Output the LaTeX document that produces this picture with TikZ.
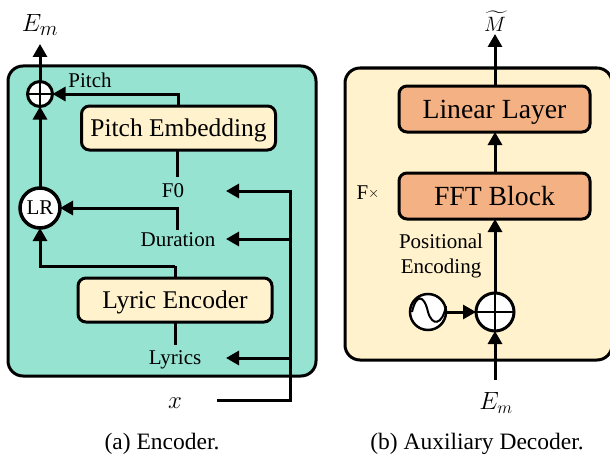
\documentclass[tikz,border=0pt]{standalone}
\usepackage{fontspec}
\usepackage{amsmath}
\setmainfont{Liberation Serif}
\usetikzlibrary{arrows.meta, positioning}

\definecolor{tealpanel}{HTML}{96E3D2}
\definecolor{creampanel}{HTML}{FFF2CC}
\definecolor{orangebox}{HTML}{F4B183}

\newcommand{\sz}[1]{\fontsize{#1}{#1}\selectfont}

\begin{document}
\begin{tikzpicture}[
			x=1pt, y=-1pt,
			panel/.style={draw, line width=3pt, rounded corners=15pt, inner sep=0pt, outer sep=0pt},
			block/.style={draw, line width=3pt, rounded corners=8pt, align=center, inner sep=0pt, outer sep=0pt, minimum width=194pt, minimum height=44pt, text depth=0pt},
			label/.style={align=center, inner sep=0pt, font=\sz{21}},
			caption/.style={inner sep=0pt, font=\sz{23.5}},
			sum/.style={draw, circle, fill=white, line width=3pt, inner sep=0pt, outer sep=0pt, path picture={
				\draw[line width=2pt] (path picture bounding box.north) -- (path picture bounding box.south);
				\draw[line width=2pt] (path picture bounding box.west) -- (path picture bounding box.east);
			}},
			wire/.style={line width=3pt},
			arr/.style={-{Triangle[length=13pt,width=14pt]}, line width=3pt}
			]
			\useasboundingbox (0,0) rectangle (610,460);
			
			% Left panel
			\node[panel, fill=tealpanel, minimum width=308pt, minimum height=310pt] (encoder) at (162,221) {};
			
			% Right panel
			\node[panel, fill=creampanel, minimum width=267pt, minimum height=292pt] (decoder) at (478.5,214) {};
			
			% Encoder blocks
			\node[block, fill=creampanel, font=\sz{25.5}] (pitch) at (178.5,128) {Pitch Embedding};
			\node[block, fill=creampanel, font=\sz{25.5}] (lyric) at (175,300) {Lyric Encoder};
			\node[sum, minimum size=25pt] (plus) at (40,94) {};
			\node[draw, circle, fill=white, line width=3.5pt, minimum size=40pt, inner sep=0pt, outer sep=0pt, font=\sz{21}] (lr) at (40,208) {LR};
			
			% Encoder labels
			\node[label] (pitchlbl) at (90,80) {Pitch};
			\node[label] (f0) at (173,191) {F0};
			\node[label] (duration) at (178,240) {Duration};
			\node[label] (lyrics) at (175,360) {Lyrics};
			
			\node[inner sep=0pt, font=\sz{30}] (em) at (40,25) {$E_m$};
			\node[inner sep=0pt, font=\sz{32}] (x) at (175,403) {$x$};
			
			% Encoder points
			\coordinate (emtip) at (40,44);
			\coordinate (xstart) at (217,400);
			\coordinate (bus) at (290,400);
			\coordinate (f0tip) at (226,191);
			\coordinate (durtip) at (226,239);
			\coordinate (lyrtip) at (226,358);
			\coordinate (durtop) at (177,208);
			\coordinate (durbot) at (177,230);
			\coordinate (lyrtop) at (175,266);
			\coordinate (f0top) at (177,177);
			\coordinate (lyrbot) at (175,345);
			
			% Encoder arrows
			\draw[arr] (plus) -- (emtip);
			\draw[arr] (lr) -- (plus);
			\draw[arr] (pitch.north) |- (plus);
			\draw[wire] (pitch.south -| f0top) -- (f0top);
			\draw[arr] (durbot) -- (durtop) -- (lr);
			\draw[wire] (lyric.north) -- (lyrtop);
			\draw[arr] (lyrtop) -| (lr);
			\draw[wire] (lyric.south) -- (lyrbot);
			\draw[arr] (xstart) -- (bus) |- (f0tip);
			\draw[arr] (bus |- durtip) -- (durtip);
			\draw[arr] (bus |- lyrtip) -- (lyrtip);
			
			% Decoder blocks
			\node[block, fill=orangebox, minimum height=46pt, minimum width=191pt, font=\sz{27.7}] (linear) at (494.5,109) {Linear Layer};
			\node[block, fill=orangebox, minimum height=46pt, minimum width=191pt, font=\sz{27.7}] (fft) at (494.5,196) {FFT Block};
			\node[sum, minimum size=38pt] (add) at (495,312) {};
			\node[draw, circle, fill=white, line width=2.5pt, minimum size=36pt, inner sep=0pt, outer sep=0pt] (sine) at (428,312) {};
			\draw[line width=2pt] (412,312) .. controls (416,294) and (424,294) .. (428,312) .. controls (432,326) and (442,326) .. (446,306);
			
			% Decoder labels
			\node[label] (fx) at (368,193) {F\raisebox{2pt}{\sz{15}$\times$}};
			\node[label] (pos) at (441,256) {Positional\\[4pt]Encoding};
			\node[inner sep=0pt, font=\sz{20}] (mel) at (495,21) {$\widetilde{M}$};
			\node[inner sep=0pt, font=\sz{24}] (embed) at (496,403) {$E_m$};
			
			% Decoder points
			\coordinate (meltip) at (495,34);
			\coordinate (embedstart) at (495,380);
			
			% Decoder arrows
			\draw[arr] (linear.north -| meltip) -- (meltip);
			\draw[arr] (fft.north -| meltip) -- (linear.south -| meltip);
			\draw[arr] (add) -- (fft.south -| meltip);
			\draw[arr] (sine) -- (add);
			\draw[arr] (embedstart) -- (add);
			
			% Captions
			\node[caption] (capa) at (162,444) {(a) Encoder.};
			\node[caption] (capb) at (477,444) {(b) Auxiliary Decoder.};
			
		\end{tikzpicture}
\end{document}
